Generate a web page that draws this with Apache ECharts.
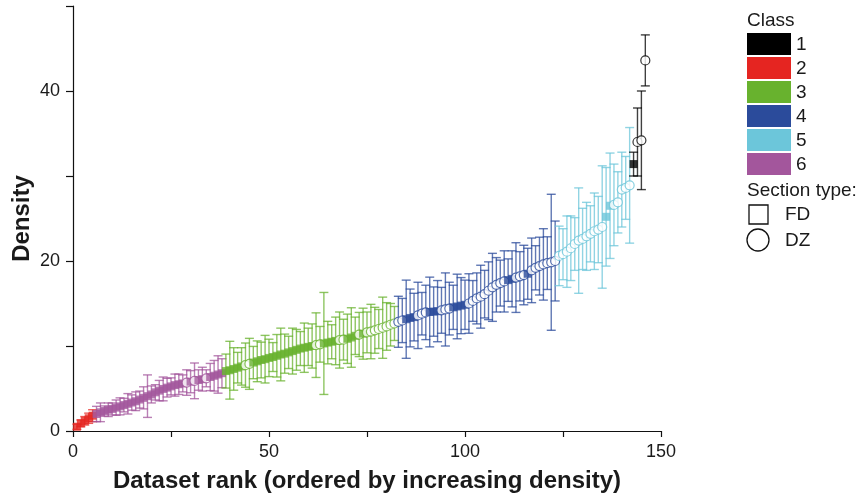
<!DOCTYPE html>
<html>
<head>
<meta charset="utf-8">
<script src="https://cdn.jsdelivr.net/npm/echarts@6/dist/echarts.min.js"></script>
<style>
  html, body { margin: 0; padding: 0; background: #ffffff; }
  #chart { width: 861px; height: 497px; }
</style>
</head>
<body>
<div id="chart"></div>
<script>
// Datasets ranked by increasing density; each class occupies a consecutive block of ranks.
// Class order along the rank axis.
const classOrder = [2, 6, 3, 4, 5, 1];

// Density per dataset, grouped by class (in rank order within each class)
const density2 = [0.5, 0.9, 1.2, 1.5, 1.8];
const density6 = [2.0, 2.2, 2.35, 2.5, 2.6, 2.75, 2.9, 3.05, 3.2, 3.35, 3.5, 3.7, 3.9, 4.1, 4.3, 4.55, 4.75,
  4.95, 5.1, 5.25, 5.4, 5.5, 5.6, 5.7, 5.8, 5.9, 6.0, 6.1, 6.2, 6.35, 6.5, 6.65, 6.8];
const density3 = [7.05, 7.15, 7.3, 7.45, 7.6, 7.75, 7.9, 8.05, 8.2, 8.35, 8.45, 8.6, 8.7, 8.85, 9.0, 9.1, 9.25,
  9.4, 9.55, 9.7, 9.8, 9.9, 10.0, 10.1, 10.2, 10.3, 10.4, 10.5, 10.6, 10.7, 10.75, 10.85, 11.0, 11.2, 11.35,
  11.45, 11.6, 11.7, 11.85, 12.0, 12.15, 12.3, 12.5, 12.65];
const density4 = [12.85, 13.0, 13.15, 13.3, 13.4, 13.6, 13.8, 13.95, 14.0, 14.05, 14.1, 14.2, 14.3, 14.4, 14.55,
  14.65, 14.75, 14.85, 15.0, 15.3, 15.6, 15.8, 16.1, 16.5, 16.9, 17.2, 17.4, 17.6, 17.75, 17.9, 18.05, 18.2,
  18.35, 18.5, 18.9, 19.2, 19.4, 19.6, 19.75, 19.85, 20.0];
const density5 = [20.6, 20.8, 21.1, 21.5, 22.0, 22.4, 22.6, 22.9, 23.2, 23.5, 23.7, 24.0, 25.2, 26.5, 26.6,
  26.9, 28.4, 28.6, 28.9];
const density1 = [31.4, 34.0, 34.2, 43.6];

// Error (± half-width) for each dataset
const err2 = [0.3, 0.4, 0.5, 0.6, 0.7];
const err6 = [0.9, 1.1, 0.6, 0.8, 0.7, 0.9, 1.0, 0.8, 1.2, 0.9, 1.1, 1.0, 1.3, 2.5, 1.0, 0.9, 1.2, 1.4, 1.1,
  1.0, 1.3, 1.2, 1.0, 1.5, 1.3, 2.1, 1.2, 1.4, 1.0, 1.6, 1.8, 2.2, 1.7];
const err3 = [2.0, 3.4, 2.5, 1.8, 2.2, 2.6, 3.0, 1.9, 2.4, 2.1, 2.8, 2.2, 1.7, 2.5, 3.1, 2.3, 1.9, 2.7, 2.4,
  2.0, 2.9, 2.2, 2.6, 3.8, 2.1, 6.0, 2.5, 2.0, 2.8, 3.3, 2.4, 2.9, 3.5, 2.2, 2.6, 3.0, 2.4, 3.2, 2.7, 2.3,
  3.6, 2.8, 2.5, 2.0];
const err4 = [3.0, 2.6, 4.6, 3.4, 2.8, 3.9, 2.5, 3.2, 4.1, 2.9, 3.6, 2.7, 4.3, 3.1, 2.6, 3.8, 3.3, 2.9, 3.5,
  2.4, 3.0, 3.7, 2.8, 3.4, 4.0, 3.2, 2.7, 3.6, 2.5, 3.3, 4.1, 2.9, 3.5, 3.0, 3.8, 2.6, 3.4, 4.2, 3.1, 8.0, 4.7];
const err5 = [3.5, 3.0, 4.2, 3.8, 3.1, 6.2, 3.6, 4.0, 3.3, 4.5, 3.9, 7.2, 5.8, 6.2, 4.8, 3.6, 4.4, 3.7, 6.8];
const err1 = [1.4, 4.0, 5.8, 3.0];

// Section type per dataset: F = FD (square), D = DZ (circle)
const section2 = 'FFFFF';
const section6 = 'FFFFFFFFFFFFFFFFFFFFFFF' + 'DFDFFD' + 'FFFF';
const section3 = 'FFFFF' + 'DD' + 'FFFFFFFFFFFFFFFF' + 'DD' + 'FFFF' + 'DD' + 'FFF' + 'D' + 'F' + 'DDDDDDDD';
const section4 = 'DD' + 'FFF' + 'DDD' + 'FFF' + 'DDD' + 'FFFF' + 'DDDDDDDDDD' + 'FF' + 'DDD' + 'F' + 'DDDDDDD';
const section5 = 'DDDDDDDDDDDD' + 'FF' + 'DDDDD';
const section1 = 'FDDD';

// Legend / class colours
const classLabels = ['1', '2', '3', '4', '5', '6'];
const classColors = { 1: '#000000', 2: '#e52521', 3: '#68b22e', 4: '#2b4b9b', 5: '#6cc6da', 6: '#a3569c' };
const sectionLabels = ['FD', 'DZ'];

const xTicks = { min: 0, max: 150, step: 25, labelStep: 50 };
const yTicks = { min: 0, max: 50, step: 10, labelStep: 20 };

const byClass = {
  1: { d: density1, e: err1, s: section1 },
  2: { d: density2, e: err2, s: section2 },
  3: { d: density3, e: err3, s: section3 },
  4: { d: density4, e: err4, s: section4 },
  5: { d: density5, e: err5, s: section5 },
  6: { d: density6, e: err6, s: section6 }
};

// Assemble rows: [rank, density, low, high, class, isDZ]
const rows = [];
let rank = 0;
classOrder.forEach(function (c) {
  const g = byClass[c];
  g.d.forEach(function (v, i) {
    rank += 1;
    rows.push([rank, v, v - g.e[i], v + g.e[i], c, g.s[i] === 'D' ? 1 : 0]);
  });
});

const FONT = 'Liberation Sans, Arial, Helvetica, sans-serif';
const TEXT = '#1a1a1a';

const errorData = rows.map(function (r) { return [r[0], r[2], r[3], r[4]]; });
const pointData = rows.map(function (r) {
  const col = classColors[r[4]];
  if (r[5]) {
    return {
      value: [r[0], r[1]],
      symbol: 'circle',
      symbolSize: 9,
      itemStyle: { color: '#ffffff', borderColor: col, borderWidth: 1.2 }
    };
  }
  return {
    value: [r[0], r[1]],
    symbol: 'rect',
    symbolSize: 8,
    itemStyle: { color: col, borderWidth: 0 }
  };
});

// Legend drawn as graphic elements on the right
const legendLeft = 747;
const graphics = [];
graphics.push({
  type: 'text', left: legendLeft, top: 11,
  style: { text: 'Class', font: '19px ' + FONT, fill: TEXT }
});
classLabels.forEach(function (lab, i) {
  const y = 33 + i * 24;
  graphics.push({
    type: 'rect', shape: { x: legendLeft, y: y, width: 44, height: 22 },
    style: { fill: classColors[+lab] }
  });
  graphics.push({
    type: 'text', x: legendLeft + 49, y: y + 12,
    style: { text: lab, font: '19px ' + FONT, fill: TEXT, verticalAlign: 'middle' }
  });
});
graphics.push({
  type: 'text', left: legendLeft, top: 181,
  style: { text: 'Section type:', font: '19px ' + FONT, fill: TEXT }
});
graphics.push({
  type: 'rect', shape: { x: legendLeft + 2, y: 205, width: 19, height: 19 },
  style: { fill: 'none', stroke: '#111', lineWidth: 1.3 }
});
graphics.push({
  type: 'text', x: legendLeft + 38, y: 215,
  style: { text: sectionLabels[0], font: '19px ' + FONT, fill: TEXT, verticalAlign: 'middle' }
});
graphics.push({
  type: 'circle', shape: { cx: legendLeft + 11, cy: 240, r: 11 },
  style: { fill: 'none', stroke: '#111', lineWidth: 1.3 }
});
graphics.push({
  type: 'text', x: legendLeft + 38, y: 241,
  style: { text: sectionLabels[1], font: '19px ' + FONT, fill: TEXT, verticalAlign: 'middle' }
});

const chart = echarts.init(document.getElementById('chart'), null, { renderer: 'canvas' });
chart.setOption({
  animation: false,
  backgroundColor: '#ffffff',
  grid: { left: 73, right: 200, top: 6, bottom: 66, containLabel: false, outerBoundsMode: 'none' },
  xAxis: {
    type: 'value', min: xTicks.min, max: xTicks.max, interval: xTicks.step,
    name: 'Dataset rank (ordered by increasing density)',
    nameLocation: 'middle', nameGap: 38, nameMoveOverlap: false,
    nameTextStyle: { fontFamily: FONT, fontSize: 24, fontWeight: 'bold', color: TEXT },
    axisLine: { show: true, onZero: false, lineStyle: { color: '#111', width: 1.2 } },
    axisTick: { show: true, inside: false, length: 6, lineStyle: { color: '#111', width: 1.2 } },
    axisLabel: {
      margin: 12, fontFamily: FONT, fontSize: 18, color: TEXT,
      formatter: function (v) { return v % xTicks.labelStep === 0 ? String(v) : ''; }
    },
    splitLine: { show: false }
  },
  yAxis: {
    type: 'value', min: yTicks.min, max: yTicks.max, interval: yTicks.step,
    name: 'Density',
    nameLocation: 'middle', nameGap: 39, nameRotate: 90, nameMoveOverlap: false,
    nameTextStyle: { fontFamily: FONT, fontSize: 24, fontWeight: 'bold', color: TEXT },
    axisLine: { show: true, onZero: false, lineStyle: { color: '#111', width: 1.2 } },
    axisTick: { show: true, inside: false, length: 7, lineStyle: { color: '#111', width: 1.2 } },
    axisLabel: {
      margin: 13, fontFamily: FONT, fontSize: 18, color: TEXT,
      formatter: function (v) { return v % yTicks.labelStep === 0 ? String(v) : ''; }
    },
    splitLine: { show: false }
  },
  graphic: graphics,
  series: [
    {
      type: 'custom',
      name: 'error',
      z: 2,
      data: errorData,
      encode: { x: 0, y: [1, 2] },
      clip: false,
      renderItem: function (params, api) {
        const x = api.value(0);
        const lo = api.coord([x, api.value(1)]);
        const hi = api.coord([x, api.value(2)]);
        const col = classColors[api.value(3)];
        const hw = 4.5;
        const st = { stroke: col, lineWidth: 1.4, opacity: 0.75 };
        return {
          type: 'group',
          children: [
            { type: 'line', shape: { x1: hi[0], y1: hi[1], x2: lo[0], y2: lo[1] }, style: st },
            { type: 'line', shape: { x1: hi[0] - hw, y1: hi[1], x2: hi[0] + hw, y2: hi[1] }, style: st },
            { type: 'line', shape: { x1: lo[0] - hw, y1: lo[1], x2: lo[0] + hw, y2: lo[1] }, style: st }
          ]
        };
      }
    },
    {
      type: 'scatter',
      name: 'density',
      z: 3,
      data: pointData
    }
  ]
});
</script>
</body>
</html>
